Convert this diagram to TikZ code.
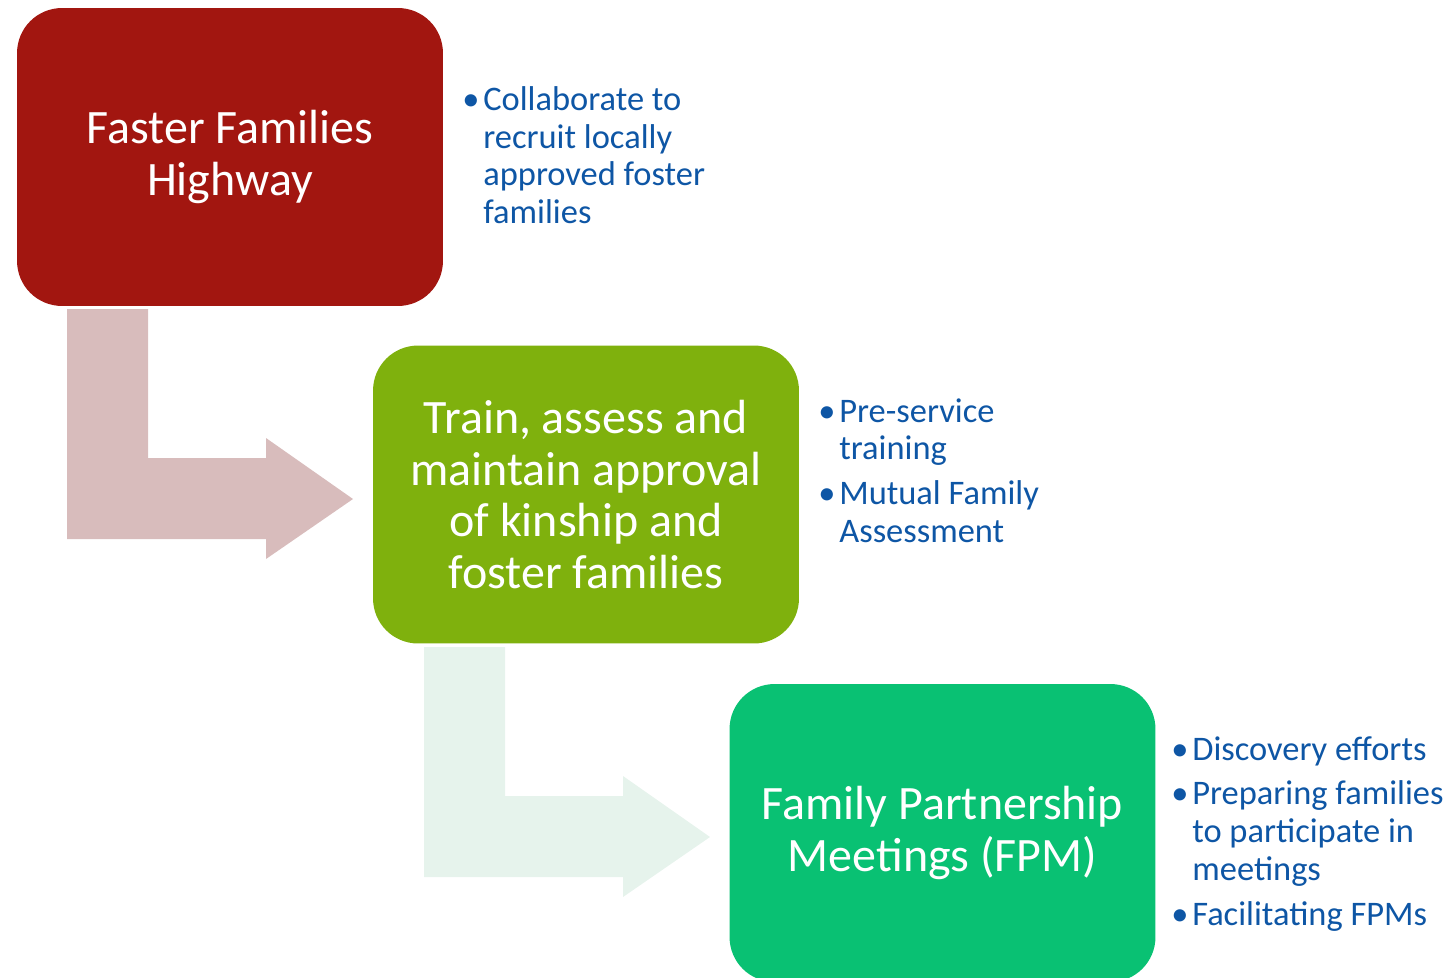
\documentclass[tikz,border=0pt]{standalone}
\usepackage{fontspec}
\setmainfont{Carlito}
\usetikzlibrary{positioning}
\definecolor{ffred}{RGB}{162,22,16}
\definecolor{ffgreen}{RGB}{127,177,13}
\definecolor{ffteal}{RGB}{9,193,115}
\definecolor{ffpink}{RGB}{216,188,188}
\definecolor{ffmint}{RGB}{230,243,236}
\definecolor{ffblue}{RGB}{14,86,165}
\newcommand{\blt}{\makebox[0.42cm][l]{\textbullet}}
\newcommand{\ind}{\hspace*{0.42cm}}
\tikzset{
  stepbox/.style={rounded corners=0.9cm, minimum width=8.52cm, minimum height=5.96cm,
    text=white, align=center, inner sep=0pt, font=\fontsize{27.3}{29.5}\selectfont},
  notes/.style={anchor=north west, inner sep=0pt, align=left, text=ffblue,
    font=\fontsize{19.6}{21.5}\selectfont}
}
\begin{document}
\begin{tikzpicture}[x=0.02cm, y=-0.02cm]
\useasboundingbox (0,0) rectangle (1450,977);

% Bent arrows
\fill[ffpink] (67,309) -- (148,309) -- (148,458) -- (266,458) -- (266,438) -- (353,499) -- (266,559) -- (266,539) -- (67,539) -- cycle;
\fill[ffmint] (424,647) -- (505,647) -- (505,796) -- (623,796) -- (623,776) -- (710,837) -- (623,897) -- (623,877) -- (424,877) -- cycle;

% Steps
\node[stepbox, fill=ffred] (highway) at (230,157) {Faster Families\\Highway};
\node[stepbox, fill=ffgreen] (approval) at (586,494.5) {Train, assess and\\maintain approval\\of kinship and\\foster families};
\node[stepbox, fill=ffteal] (fpm) at (942.5,833) {Family Partnership\\Meetings (FPM)};

% Notes
\node[notes] (highwaynotes) at (462,86) {\blt Collaborate to\\\ind recruit locally\\\ind approved foster\\\ind families};
\node[notes] (approvalnotes) at (818,398) {\blt Pre-service\\\ind training\\[0.14cm]\blt Mutual Family\\\ind Assessment};
\node[notes] (fpmnotes) at (1171,736) {\blt Discovery efforts\\[0.14cm]\blt Preparing families\\\ind to participate in\\\ind meetings\\[0.14cm]\blt Facilitating FPMs};
\end{tikzpicture}
\end{document}
